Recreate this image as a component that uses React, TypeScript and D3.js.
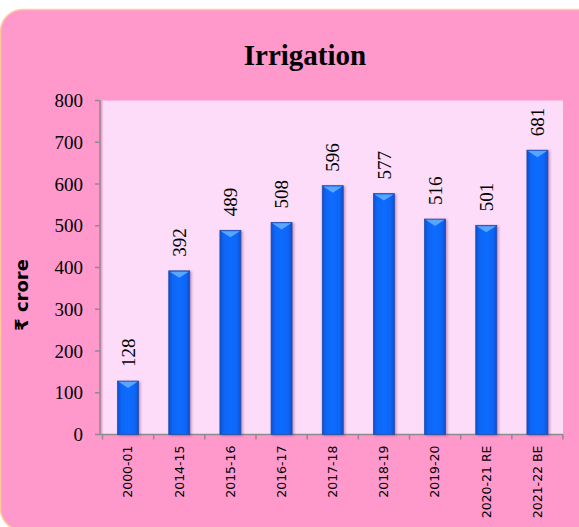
import React from 'react';
import * as d3 from 'd3';

const years = ['2000-01', '2014-15', '2015-16', '2016-17', '2017-18', '2018-19', '2019-20', '2020-21 RE', '2021-22 BE'];
const values = [128, 392, 489, 508, 596, 577, 516, 501, 681];
const yTicks = [0, 100, 200, 300, 400, 500, 600, 700, 800];

const W = 579;
const H = 527;
const left = 100;
const right = 563;
const top = 100.5;
const bottom = 434.5;

const App = () => {
  const x = d3.scaleBand().domain(years).range([left + 2.5, right]).padding(0);
  const y = d3.scaleLinear().domain([0, 800]).range([bottom, top]);
  const bw = x.bandwidth() * 0.41;

  return (
    <svg width={W} height={H} style={{ display: 'block', position: 'absolute', left: 0, top: 0 }}>
      <defs>
        <linearGradient id="barGrad" x1="0" x2="1" y1="0" y2="0">
          <stop offset="0%" stopColor="#0a4fd0" />
          <stop offset="18%" stopColor="#0a66f5" />
          <stop offset="50%" stopColor="#0f6cff" />
          <stop offset="82%" stopColor="#0a66f5" />
          <stop offset="100%" stopColor="#0a4fd0" />
        </linearGradient>
        <filter id="shadow" x="-30%" y="-10%" width="160%" height="120%">
          <feDropShadow dx="1.5" dy="1" stdDeviation="1.2" floodColor="#803060" floodOpacity="0.45" />
        </filter>
      </defs>
      <rect x={0} y={0} width={W} height={H} fill="#ffffff" />
      <rect x={0.5} y={9.5} width={600} height={521} rx={22} ry={22} fill="#ff99cc" stroke="#ffcc99" strokeWidth={1.5} />
      <text x={305} y={65} textAnchor="middle" fontFamily="Liberation Serif, serif" fontWeight="bold" fontSize={29} fill="#000">Irrigation</text>

      <rect x={left + 2.5} y={top} width={right - left - 2.5} height={bottom - top} fill="#fcdcf8" />

      {/* y axis */}
      <line x1={left} x2={left} y1={top} y2={bottom} stroke="#8c8c8c" strokeWidth={1.5} />
      {yTicks.map((t) => (
        <g key={t}>
          <line x1={left - 5} x2={left} y1={y(t)} y2={y(t)} stroke="#8c8c8c" strokeWidth={1.5} />
          <text x={83} y={y(t)} dy="0.35em" textAnchor="end" fontFamily="Liberation Serif, serif" fontSize={19} fill="#000">{t}</text>
        </g>
      ))}

      {/* x axis */}
      <line x1={left} x2={right} y1={bottom} y2={bottom} stroke="#8c8c8c" strokeWidth={1.5} />
      {years.map((yr) => (
        <line key={'t' + yr} x1={x(yr)!} x2={x(yr)!} y1={bottom} y2={bottom + 5} stroke="#8c8c8c" strokeWidth={1.5} />
      ))}
      <line x1={right} x2={right} y1={bottom} y2={bottom + 5} stroke="#8c8c8c" strokeWidth={1.5} />

      {/* bars */}
      {years.map((yr, i) => {
        const cx = x(yr)! + x.bandwidth() / 2;
        const y0 = y(values[i]);
        const x0 = cx - bw / 2;
        return (
          <g key={yr}>
            <rect x={x0} y={y0} width={bw} height={bottom - y0} fill="url(#barGrad)" stroke="#1f4fa8" strokeWidth={0.8} filter="url(#shadow)" />
            <polygon points={`${x0 + 1},${y0 + 0.8} ${x0 + bw - 1},${y0 + 0.8} ${cx},${y0 + 7}`} fill="#5aa6ff" />
            <text transform={`translate(${cx},${y0 - 14}) rotate(-90)`} dy="0.35em" textAnchor="start" fontFamily="Liberation Serif, serif" fontSize={19} fill="#000">{values[i]}</text>
            <text transform={`translate(${cx},${bottom + 11}) rotate(-90)`} dy="0.35em" textAnchor="end" fontFamily="DejaVu Sans, sans-serif" fontSize={12.5} fill="#000">{yr}</text>
          </g>
        );
      })}

      <text transform="translate(22,295) rotate(-90)" dy="0.35em" textAnchor="middle" fontFamily="DejaVu Sans, sans-serif" fontWeight="bold" fontSize={18} fill="#000">₹ crore</text>
    </svg>
  );
};

export default App;
